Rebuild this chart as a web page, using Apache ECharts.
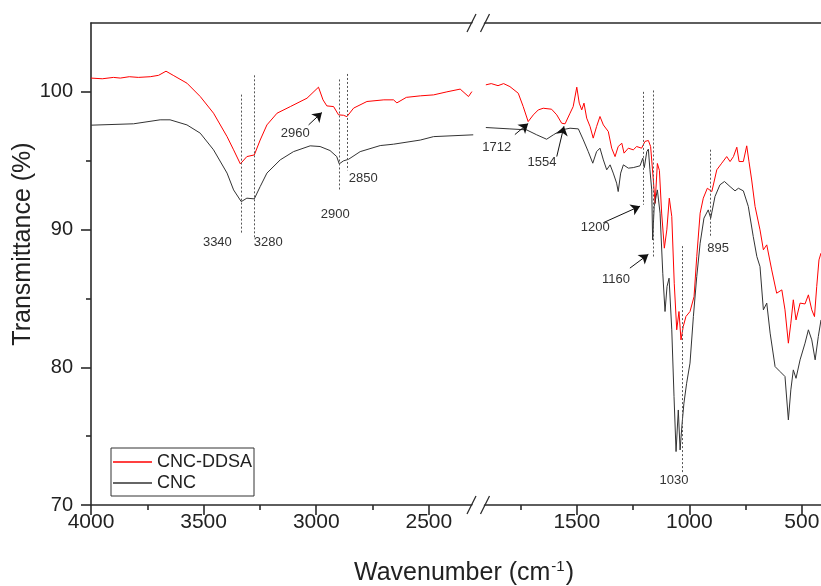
<!DOCTYPE html>
<html>
<head>
<meta charset="utf-8">
<title>FTIR CNC / CNC-DDSA</title>
<script src="https://cdn.jsdelivr.net/npm/echarts@6/dist/echarts.min.js"></script>
<style>
  html, body { margin: 0; padding: 0; background: #fff; }
  #chart { width: 821px; height: 586px; }
</style>
</head>
<body>
<div id="chart"></div>
<script>
// ---- data (wavenumber in cm-1, transmittance in %) ----
const ddsaLeftWave = [4000, 3950, 3900, 3870, 3830, 3790, 3737, 3700, 3667, 3635, 3574, 3515, 3456, 3396, 3367, 3337, 3308, 3275, 3249, 3219, 3174, 3115, 3041, 2990, 2970, 2953, 2923, 2901, 2879, 2864, 2834, 2775, 2700, 2657, 2642, 2600, 2538, 2479, 2420, 2361, 2324, 2309];
const ddsaLeftT = [101.0, 100.95, 101.05, 101.0, 101.1, 101.05, 101.1, 101.2, 101.5, 101.2, 100.63, 99.66, 98.45, 96.75, 95.79, 94.77, 95.3, 95.42, 96.5, 97.6, 98.45, 98.93, 99.54, 100.34, 99.42, 98.98, 98.93, 98.33, 98.3, 98.2, 98.82, 99.3, 99.42, 99.42, 99.2, 99.6, 99.71, 99.78, 100.0, 100.2, 99.66, 100.02];

const cncLeftWave = [4000, 3811, 3693, 3649, 3574, 3515, 3456, 3396, 3367, 3333, 3308, 3275, 3249, 3219, 3160, 3101, 3027, 2983, 2939, 2909, 2898, 2879, 2857, 2805, 2716, 2657, 2538, 2479, 2303];
const cncLeftT = [97.58, 97.68, 97.97, 97.97, 97.6, 97.0, 95.79, 94.1, 92.88, 92.03, 92.28, 92.23, 93.12, 94.1, 95.06, 95.66, 96.08, 96.03, 95.74, 95.3, 94.77, 94.99, 95.1, 95.66, 96.1, 96.2, 96.5, 96.75, 96.88];

const ddsaRightWave = [1904, 1880, 1850, 1825, 1797, 1760, 1738, 1716, 1693, 1671, 1649, 1612, 1589, 1567, 1552, 1530, 1516, 1500, 1489, 1478, 1468, 1456, 1441, 1427, 1412, 1397, 1382, 1360, 1345, 1330, 1316, 1300, 1290, 1271, 1249, 1234, 1212, 1197, 1182, 1172, 1160, 1152, 1142, 1133, 1123, 1111, 1100, 1089, 1078, 1067, 1056, 1046, 1037, 1027, 1015, 997, 979, 967, 952, 938, 920, 900, 878, 856, 834, 819, 804, 789, 779, 760, 745, 735, 723, 708, 686, 671, 656, 634, 612, 589, 575, 560, 549, 538, 526, 508, 486, 471, 456, 444, 434, 424, 415];
const ddsaRightT = [100.51, 100.6, 100.45, 100.6, 100.38, 99.9, 98.93, 97.84, 98.33, 98.69, 98.81, 98.74, 98.33, 97.72, 97.68, 98.45, 98.93, 100.34, 99.18, 98.69, 99.18, 98.09, 97.48, 96.64, 97.48, 98.21, 97.6, 97.12, 95.91, 95.3, 96.03, 96.27, 95.55, 95.91, 95.79, 96.03, 95.91, 96.4, 96.47, 96.03, 93.6, 91.9, 94.8, 94.3, 91.2, 88.65, 89.98, 92.28, 90.95, 86.1, 82.72, 84.05, 81.99, 82.96, 83.69, 84.05, 85.13, 88.04, 91.19, 92.28, 93.0, 92.76, 94.34, 94.82, 95.3, 94.94, 95.3, 95.98, 94.94, 94.94, 96.08, 94.94, 93.6, 91.68, 89.98, 88.53, 88.89, 87.07, 85.38, 85.62, 84.17, 81.75, 83.2, 84.9, 83.44, 84.66, 84.6, 85.26, 84.17, 83.68, 85.87, 87.8, 88.29];

const cncRightWave = [1904, 1797, 1723, 1678, 1634, 1604, 1567, 1530, 1493, 1471, 1449, 1429, 1412, 1397, 1382, 1367, 1352, 1338, 1323, 1316, 1305, 1293, 1271, 1249, 1219, 1207, 1200, 1189, 1182, 1175, 1167, 1163, 1156, 1142, 1130, 1118, 1108, 1099, 1090, 1078, 1068, 1059, 1049, 1041, 1032, 1024, 1012, 997, 982, 967, 952, 935, 916, 905, 886, 864, 844, 819, 797, 782, 760, 738, 716, 700, 686, 671, 656, 641, 619, 597, 575, 560, 549, 538, 526, 508, 486, 471, 456, 441, 427, 415];
const cncRightT = [97.41, 97.31, 97.24, 96.88, 96.56, 96.88, 97.24, 97.36, 97.31, 96.51, 95.66, 94.82, 95.66, 95.91, 95.06, 94.34, 94.7, 94.1, 93.37, 92.76, 94.1, 94.7, 94.46, 94.5, 94.63, 95.18, 94.5, 95.66, 95.84, 94.34, 92.88, 89.25, 91.68, 92.88, 91.19, 86.83, 84.05, 85.87, 86.47, 82.72, 77.87, 73.88, 76.9, 74.0, 75.94, 77.39, 78.84, 80.3, 83.69, 86.59, 89.01, 90.83, 91.43, 90.83, 92.4, 93.25, 93.49, 93.12, 92.81, 93.0, 92.81, 91.68, 89.49, 88.04, 87.31, 84.17, 84.66, 82.48, 80.05, 79.69, 79.33, 76.18, 78.36, 79.81, 79.2, 80.54, 81.75, 82.72, 81.99, 80.54, 82.23, 83.44];

// axis ranges and ticks
const leftRange = [2273, 4000];
const rightRange = [415, 1930];
const tRange = [70, 105];
const leftMajor = [4000, 3500, 3000, 2500];
const leftMinor = [3750, 3250, 2750];
const rightMajor = [1500, 1000, 500];
const rightMinor = [1750, 1250, 750];
const tMajor = [70, 80, 90, 100];
const tMinor = [75, 85, 95];

// dotted guide lines: [wavenumber, top %T, bottom %T]
const leftGuides = [[3335, 99.8, 89.7], [3275, 101.2, 89.3], [2898, 100.9, 92.8], [2861, 101.3, 94.3]];
const rightGuides = [[1204, 100.0, 91.8], [1160, 100.1, 88.0], [1031, 88.8, 72.3], [905, 95.8, 89.5]];
// peak labels: [text, wavenumber, %T]
const leftLabels = [['3340', 3439, 89.1], ['3280', 3213, 89.1], ['2960', 3093, 97.0], ['2850', 2791, 93.75], ['2900', 2916, 91.1]];
const rightLabels = [['1712', 1856, 96.0], ['1554', 1655, 94.9], ['1200', 1418, 90.15], ['1160', 1326, 86.4], ['895', 872, 88.6], ['1030', 1068, 71.8]];
// arrows: [from wavenumber, from %T, to wavenumber, to %T]
const leftArrows = [[3034, 97.6, 2975, 98.5]];
const rightArrows = [[1775, 96.9, 1716, 97.7], [1589, 95.3, 1557, 97.5], [1382, 90.5, 1219, 91.7], [1264, 87.2, 1182, 88.2]];

// ---- layout ----
const FONT = '"Liberation Sans", Arial, sans-serif';
const AXIS_COLOR = '#2a2a2a';
const plotTop = 23, plotBottom = 505;
const leftX = 91, breakX = 480;

const chart = echarts.init(document.getElementById('chart'), null, { renderer: 'canvas' });

function pairs(xs, ys) {
  return xs.map((x, i) => [x, ys[i]]);
}

function bottomAxis(grid, range, values, withLabels) {
  return {
    type: 'value', gridIndex: grid, position: 'bottom', inverse: true,
    min: range[0], max: range[1],
    axisLine: { show: withLabels, lineStyle: { color: AXIS_COLOR, width: 1.6 } },
    axisTick: { show: true, inside: false, length: withLabels ? 10 : 5, customValues: values,
      lineStyle: { color: AXIS_COLOR, width: 1.6 } },
    axisLabel: { show: withLabels, customValues: values, margin: 7, fontSize: 21,
      color: '#222', fontFamily: FONT, formatter: v => String(v) },
    splitLine: { show: false }
  };
}

function topAxis(grid, range) {
  return {
    type: 'value', gridIndex: grid, position: 'top', inverse: true,
    min: range[0], max: range[1],
    axisLine: { show: true, lineStyle: { color: AXIS_COLOR, width: 1.6 } },
    axisTick: { show: false }, axisLabel: { show: false }, splitLine: { show: false }
  };
}

function yAxisFor(grid, values, major, visible) {
  return {
    type: 'value', gridIndex: grid, position: 'left',
    min: tRange[0], max: tRange[1],
    axisLine: { show: visible && major, lineStyle: { color: AXIS_COLOR, width: 1.6 } },
    axisTick: { show: visible, length: major ? 10 : 5, customValues: values,
      lineStyle: { color: AXIS_COLOR, width: 1.6 } },
    axisLabel: { show: visible && major, customValues: values, margin: 18, fontSize: 20,
      color: '#222', fontFamily: FONT, formatter: v => String(v) },
    splitLine: { show: false }
  };
}

function guideLines(list) {
  return {
    silent: true, symbol: ['none', 'none'], label: { show: false },
    lineStyle: { color: '#555', width: 1, type: [2, 2] },
    data: list.map(g => [{ coord: [g[0], g[1]] }, { coord: [g[0], g[2]] }])
  };
}

function arrowLines(list) {
  return {
    silent: true, symbol: ['none', 'arrow'], symbolSize: 9, label: { show: false },
    itemStyle: { color: '#111' },
    lineStyle: { color: '#111', width: 1, type: 'solid' },
    data: list.map(a => [{ coord: [a[0], a[1]] }, { coord: [a[2], a[3]] }])
  };
}

function peakLabels(list) {
  return {
    silent: true, symbol: 'rect', symbolSize: 1,
    itemStyle: { color: 'rgba(0,0,0,0)' },
    label: { show: true, position: 'inside', formatter: '{b}', fontSize: 13,
      color: '#333', fontFamily: FONT },
    data: list.map(p => ({ name: p[0], coord: [p[1], p[2]] }))
  };
}

function spectrum(name, color, xAxisIndex, yAxisIndex, data, extra) {
  return Object.assign({
    name, type: 'line', xAxisIndex, yAxisIndex, data,
    symbol: 'none', showSymbol: false, silent: true, clip: true,
    lineStyle: { color, width: 1 }, itemStyle: { color }
  }, extra || {});
}

// "//" break marks on the top and bottom axis lines
function breakMarks(y) {
  const h = 9;
  const a = breakX - 13, b = breakX + 0.5;
  return [
    { type: 'polygon', z: 100, shape: { points: [[a + 1, y + h], [a + 10, y - h], [b + 8, y - h], [b - 1, y + h]] },
      style: { fill: '#fff' } },
    { type: 'line', z: 101, shape: { x1: a, y1: y + h, x2: a + 9, y2: y - h },
      style: { stroke: AXIS_COLOR, lineWidth: 1.3 } },
    { type: 'line', z: 101, shape: { x1: b, y1: y + h, x2: b + 9, y2: y - h },
      style: { stroke: AXIS_COLOR, lineWidth: 1.3 } }
  ];
}

const option = {
  animation: false,
  backgroundColor: '#fff',
  textStyle: { fontFamily: FONT },
  grid: [
    { left: leftX, top: plotTop, width: breakX - leftX, bottom: 586 - plotBottom, outerBoundsMode: 'none', containLabel: false },
    { left: breakX, top: plotTop, right: 0, bottom: 586 - plotBottom, outerBoundsMode: 'none', containLabel: false }
  ],
  xAxis: [
    bottomAxis(0, leftRange, leftMajor, true),
    bottomAxis(0, leftRange, leftMinor, false),
    topAxis(0, leftRange),
    bottomAxis(1, rightRange, rightMajor, true),
    bottomAxis(1, rightRange, rightMinor, false),
    topAxis(1, rightRange)
  ],
  yAxis: [
    yAxisFor(0, tMajor, true, true),
    yAxisFor(0, tMinor, false, true),
    yAxisFor(1, tMajor, true, false)
  ],
  legend: {
    data: ['CNC-DDSA', 'CNC'],
    orient: 'vertical', left: 111, top: 448,
    icon: 'rect', itemWidth: 39, itemHeight: 1.5, itemGap: 3,
    padding: [5, 2, 4, 2],
    borderColor: '#333', borderWidth: 1, borderRadius: 0,
    selectedMode: false,
    textStyle: { fontSize: 18, color: '#222', fontFamily: FONT, lineHeight: 18 }
  },
  series: [
    spectrum('CNC-DDSA', '#ff0000', 0, 0, pairs(ddsaLeftWave, ddsaLeftT),
      { markLine: arrowLines(leftArrows) }),
    spectrum('CNC', '#333333', 0, 0, pairs(cncLeftWave, cncLeftT),
      { markLine: guideLines(leftGuides), markPoint: peakLabels(leftLabels) }),
    spectrum('CNC-DDSA', '#ff0000', 3, 2, pairs(ddsaRightWave, ddsaRightT),
      { markLine: arrowLines(rightArrows) }),
    spectrum('CNC', '#333333', 3, 2, pairs(cncRightWave, cncRightT),
      { markLine: guideLines(rightGuides), markPoint: peakLabels(rightLabels) })
  ],
  graphic: [
    { type: 'text', x: 23, y: 244, rotation: Math.PI / 2,
      style: { text: 'Transmittance (%)', fontSize: 25, fontFamily: FONT, fill: '#222',
        textAlign: 'center', textVerticalAlign: 'middle' } },
    { type: 'text', x: 464, y: 573,
      style: { text: '{m|Wavenumber (cm}{s|-1}{m|)}', fill: '#222', fontFamily: FONT,
        textAlign: 'center', textVerticalAlign: 'middle',
        rich: {
          m: { fontSize: 25, fontFamily: FONT, fill: '#222', lineHeight: 28 },
          s: { fontSize: 15, fontFamily: FONT, fill: '#222', lineHeight: 28, verticalAlign: 'top', padding: [0, 1, 0, 1] }
        } } }
  ].concat(breakMarks(plotTop), breakMarks(plotBottom))
};

chart.setOption(option);
</script>
</body>
</html>
